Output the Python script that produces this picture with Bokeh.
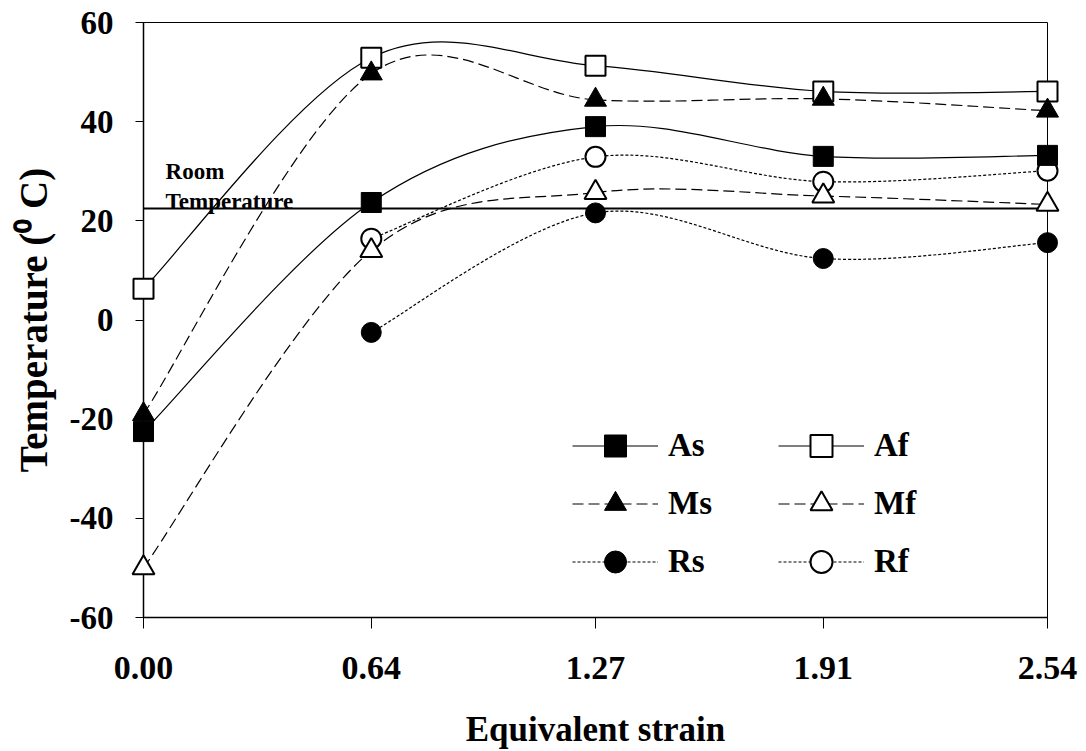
from bokeh.plotting import figure
from bokeh.models import Span, Label, Legend, LegendItem, FixedTicker, PrintfTickFormatter
from bokeh.embed import file_html
from bokeh.resources import INLINE

# ---- data ----
strain = [0.00, 0.64, 1.27, 1.91, 2.54]
strain_r = [0.64, 1.27, 1.91, 2.54]
As = [-22.5, 23.7, 39.0, 33.0, 33.2]
Af = [6.3, 52.9, 51.3, 46.1, 46.1]
Ms = [-19.0, 49.7, 44.4, 44.6, 42.2]
Mf = [-50.0, 14.0, 25.7, 25.0, 23.3]
Rs = [-2.5, 21.6, 12.4, 15.6]
Rf = [16.4, 32.9, 27.9, 30.1]
room_temp = 22.5
y_ticks = [-60, -40, -20, 0, 20, 40, 60]

FONT = "Liberation Serif"


def smooth_ctrl(xs, ys):
    """Bezier control points of a Catmull-Rom style smoothed line (like a spreadsheet 'smoothed line')."""
    n = len(xs)
    out = dict(x0=[], y0=[], x1=[], y1=[], cx0=[], cy0=[], cx1=[], cy1=[])
    for i in range(n - 1):
        xp, yp = (xs[i - 1], ys[i - 1]) if i > 0 else (xs[i], ys[i])
        xn, yn = (xs[i + 2], ys[i + 2]) if i + 2 < n else (xs[i + 1], ys[i + 1])
        out["x0"].append(xs[i]); out["y0"].append(ys[i])
        out["x1"].append(xs[i + 1]); out["y1"].append(ys[i + 1])
        out["cx0"].append(xs[i] + (xs[i + 1] - xp) / 6.0)
        out["cy0"].append(ys[i] + (ys[i + 1] - yp) / 6.0)
        out["cx1"].append(xs[i + 1] - (xn - xs[i]) / 6.0)
        out["cy1"].append(ys[i + 1] - (yn - ys[i]) / 6.0)
    return out


p = figure(width=1086, height=751, output_backend="svg", toolbar_location=None,
           x_range=(0.0, 2.54), y_range=(-60, 60),
           min_border_left=143, min_border_right=39, min_border_top=22, min_border_bottom=134)
p.background_fill_color = "white"
p.border_fill_color = "white"
p.outline_line_color = "black"
p.outline_line_width = 1
p.xgrid.visible = False
p.ygrid.visible = False

# axes
p.xaxis.ticker = FixedTicker(ticks=strain)
p.xaxis.formatter = PrintfTickFormatter(format="%.2f")
p.yaxis.ticker = FixedTicker(ticks=y_ticks)
p.yaxis.formatter = PrintfTickFormatter(format="%d")
for ax in (p.xaxis, p.yaxis):
    ax.axis_line_color = "black"
    ax.axis_line_width = 1.5
    ax.major_tick_line_color = "black"
    ax.major_tick_line_width = 1
    ax.major_tick_in = 0
    ax.minor_tick_line_color = None
    ax.major_label_text_font = FONT
    ax.major_label_text_font_style = "bold"
    ax.major_label_text_color = "black"
    ax.axis_label_text_font = FONT
    ax.axis_label_text_font_style = "bold"
    ax.axis_label_text_color = "black"
p.xaxis.major_tick_out = 11
p.yaxis.major_tick_out = 8
p.xaxis.major_label_text_font_size = "34px"
p.yaxis.major_label_text_font_size = "33px"
p.xaxis.major_label_standoff = 28
p.yaxis.major_label_standoff = 22
p.xaxis.axis_label = "Equivalent strain"
p.yaxis.axis_label = "Temperature (\u2070 C)"
p.xaxis.axis_label_text_font_size = "35px"
p.yaxis.axis_label_text_font_size = "39px"
p.xaxis.axis_label_standoff = 28
p.yaxis.axis_label_standoff = 12

# room temperature line and text
p.add_layout(Span(location=room_temp, dimension="width", line_color="black", line_width=2))
p.add_layout(Label(x=0.062, y=29.9, text="Room", text_font=FONT, text_font_style="bold",
                   text_font_size="23px", text_color="black", text_baseline="alphabetic"))
p.add_layout(Label(x=0.062, y=23.9, text="Temperature", text_font=FONT, text_font_style="bold",
                   text_font_size="23px", text_color="black", text_baseline="alphabetic"))

series = {
    "As": dict(x=strain, y=As, marker="square", fill="black", dash="solid", size=20),
    "Af": dict(x=strain, y=Af, marker="square", fill="white", dash="solid", size=20),
    "Ms": dict(x=strain, y=Ms, marker="triangle", fill="black", dash="11 5", size=22),
    "Mf": dict(x=strain, y=Mf, marker="triangle", fill="white", dash="11 5", size=22),
    "Rs": dict(x=strain_r, y=Rs, marker="circle", fill="black", dash="3 2", size=20),
    "Rf": dict(x=strain_r, y=Rf, marker="circle", fill="white", dash="3 2", size=20),
}

# smoothed curves
curve_r = {}
for name, s in series.items():
    c = smooth_ctrl(s["x"], s["y"])
    curve_r[name] = p.bezier(source=c, x0="x0", y0="y0", x1="x1", y1="y1",
                             cx0="cx0", cy0="cy0", cx1="cx1", cy1="cy1",
                             line_color="black", line_width=1.2, line_dash=s["dash"])

# markers (drawn in an order that matches the overlaps of the reference)
marker_r = {}
for name in ["Rf", "Rs", "Af", "As", "Mf", "Ms"]:
    s = series[name]
    r = p.scatter(s["x"], s["y"], marker=s["marker"], size=s["size"], fill_color=s["fill"],
                  line_color="black", line_width=2 if s["fill"] == "white" else 1, level="overlay")
    marker_r[name] = r


def make_legend(names, loc):
    items = [LegendItem(label=n, renderers=[curve_r[n], marker_r[n]]) for n in names]
    lg = Legend(items=items, location=loc, orientation="vertical",
                glyph_width=86, glyph_height=55, label_height=55, spacing=3,
                label_standoff=10, padding=0, margin=0,
                label_text_font=FONT, label_text_font_style="bold", label_text_font_size="33px",
                label_text_color="black", label_text_baseline="middle",
                background_fill_alpha=0, border_line_alpha=0)
    return lg


p.add_layout(make_legend(["As", "Ms", "Rs"], (429, 28)))
p.add_layout(make_legend(["Af", "Mf", "Rf"], (635, 28)))

open("out.html", "w").write(file_html(p, INLINE))
